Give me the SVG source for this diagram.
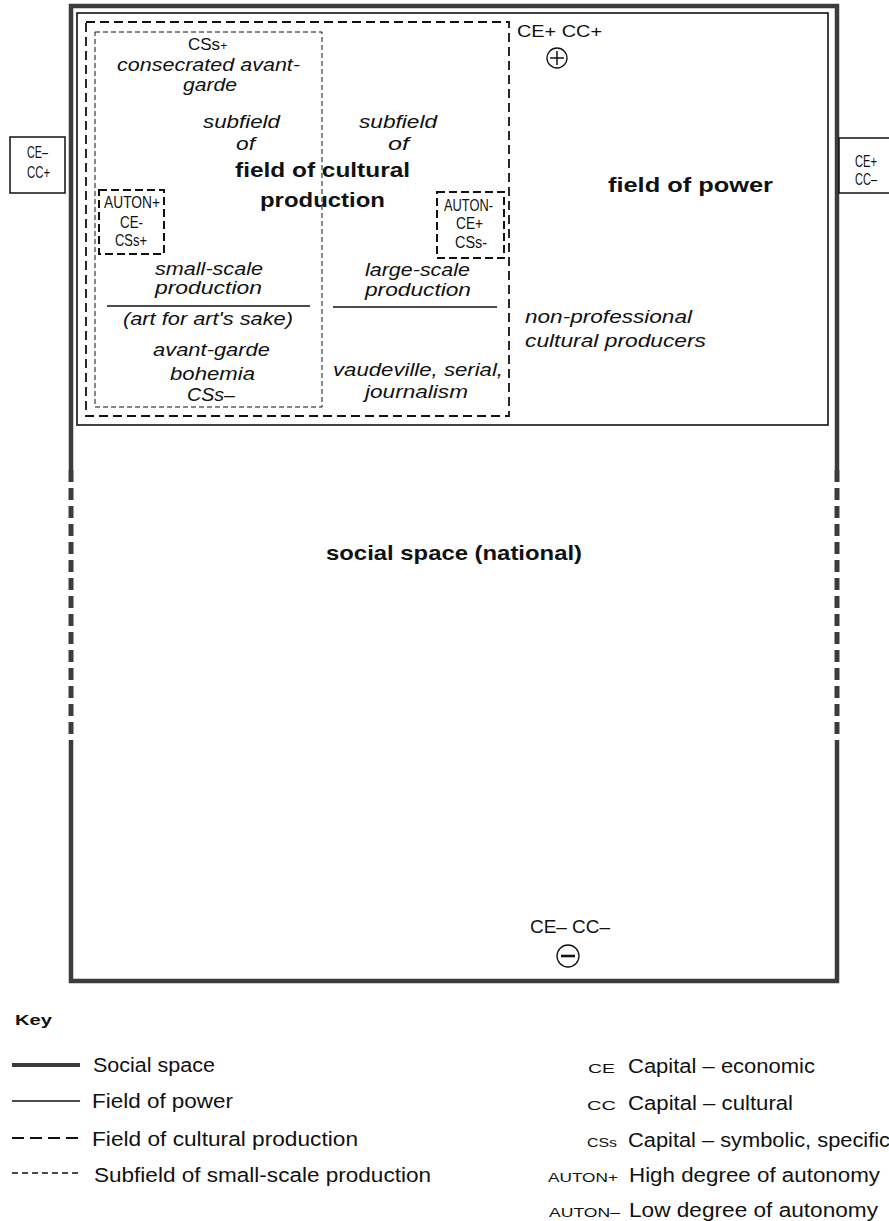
<svg xmlns="http://www.w3.org/2000/svg" width="889" height="1221" viewBox="0 0 889 1221">
<style>
text{font-family:"Liberation Sans",Arial,sans-serif;fill:#111}
.it{font-style:italic;font-size:18.5px}
.bd{font-weight:bold;font-size:21px}
.sm{font-size:16px}
.key{font-size:20px}
.kab{font-size:13px}
.ss{fill:none;stroke:#3c3c3c;stroke-width:4.5}
.ssd{fill:none;stroke:#3c3c3c;stroke-width:5;stroke-dasharray:12 6}
.fp{fill:none;stroke:#111;stroke-width:1.6}
.fc{fill:none;stroke:#111;stroke-width:1.8;stroke-dasharray:9 5}
.sf{fill:none;stroke:#111;stroke-width:1;stroke-dasharray:5 3}
.ab{fill:none;stroke:#111;stroke-width:2;stroke-dasharray:8 4}
.bx{fill:#fff;stroke:#111;stroke-width:1.5}
.dv{stroke:#111;stroke-width:1.3}
</style>
<rect width="889" height="1221" fill="#fff"/>

<g id="social-space">
<path class="ss" d="M71,470 V6 H837 V470"/>
<path class="ss" d="M71,740 V981 H837 V740"/>
<path class="ssd" d="M71,470 V740"/>
<path class="ssd" d="M837,470 V740"/>
<text class="bd" x="326" y="560" textLength="256" lengthAdjust="spacingAndGlyphs">social space (national)</text>
<text x="530" y="933" font-size="18" textLength="80" lengthAdjust="spacingAndGlyphs">CE– CC–</text>
<circle cx="568" cy="956" r="11" fill="none" stroke="#111" stroke-width="1.3"/>
<line x1="561" y1="956" x2="575" y2="956" stroke="#111" stroke-width="2.6"/>
</g>

<g id="field-of-power">
<rect class="fp" x="77" y="13" width="751" height="412"/>
<text x="517" y="37" font-size="16" textLength="85" lengthAdjust="spacingAndGlyphs">CE+ CC+</text>
<circle cx="557" cy="58" r="10" fill="none" stroke="#111" stroke-width="1.3"/>
<line x1="550" y1="58" x2="564" y2="58" stroke="#111" stroke-width="1.5"/>
<line x1="557" y1="51" x2="557" y2="65" stroke="#111" stroke-width="1.5"/>
<text class="bd" x="608" y="192" textLength="165" lengthAdjust="spacingAndGlyphs">field of power</text>
<text class="it" x="525" y="323" textLength="167" lengthAdjust="spacingAndGlyphs">non-professional</text>
<text class="it" x="525" y="347" textLength="181" lengthAdjust="spacingAndGlyphs">cultural producers</text>
</g>

<g id="field-cultural-production">
<rect class="fc" x="86" y="22" width="423" height="394"/>
<text class="it" x="203" y="128" textLength="77" lengthAdjust="spacingAndGlyphs">subfield</text>
<text class="it" x="236" y="150" textLength="19" lengthAdjust="spacingAndGlyphs">of</text>
<text class="it" x="359" y="128" textLength="78" lengthAdjust="spacingAndGlyphs">subfield</text>
<text class="it" x="388" y="150" textLength="21" lengthAdjust="spacingAndGlyphs">of</text>
<text class="bd" x="235" y="177" textLength="175" lengthAdjust="spacingAndGlyphs">field of cultural</text>
<text class="bd" x="260" y="207" textLength="125" lengthAdjust="spacingAndGlyphs">production</text>
<text class="it" x="365" y="276" textLength="105" lengthAdjust="spacingAndGlyphs">large-scale</text>
<text class="it" x="365" y="296" textLength="106" lengthAdjust="spacingAndGlyphs">production</text>
<text class="it" x="333" y="376" textLength="170" lengthAdjust="spacingAndGlyphs">vaudeville, serial,</text>
<text class="it" x="365" y="398" textLength="103" lengthAdjust="spacingAndGlyphs">journalism</text>
</g>

<g id="subfield-small-scale">
<rect class="sf" x="95" y="32" width="227" height="375"/>
<text x="188" y="50" font-size="17">CSs<tspan font-size="12">+</tspan></text>
<text class="it" x="117" y="71" textLength="183" lengthAdjust="spacingAndGlyphs">consecrated avant-</text>
<text class="it" x="183" y="91" textLength="54" lengthAdjust="spacingAndGlyphs">garde</text>
<text class="it" x="155" y="275" textLength="108" lengthAdjust="spacingAndGlyphs">small-scale</text>
<text class="it" x="155" y="294" textLength="107" lengthAdjust="spacingAndGlyphs">production</text>
<text class="it" x="123" y="325" textLength="170" lengthAdjust="spacingAndGlyphs">(art for art's sake)</text>
<text class="it" x="153" y="356" textLength="117" lengthAdjust="spacingAndGlyphs">avant-garde</text>
<text class="it" x="170" y="380" textLength="85" lengthAdjust="spacingAndGlyphs">bohemia</text>
<text class="it" x="187" y="401" font-size="17" textLength="48" lengthAdjust="spacingAndGlyphs">CSs–</text>
</g>

<g id="auton-plus">
<rect class="ab" x="99" y="190" width="65" height="64"/>
<text class="sm" x="104" y="208" textLength="56" lengthAdjust="spacingAndGlyphs">AUTON+</text>
<text class="sm" x="120" y="228" textLength="23" lengthAdjust="spacingAndGlyphs">CE-</text>
<text class="sm" x="115" y="246" textLength="32" lengthAdjust="spacingAndGlyphs">CSs+</text>
</g>

<g id="auton-minus">
<rect class="ab" x="437" y="192" width="67" height="66"/>
<text class="sm" x="444" y="211" textLength="49" lengthAdjust="spacingAndGlyphs">AUTON-</text>
<text class="sm" x="456" y="229" textLength="27" lengthAdjust="spacingAndGlyphs">CE+</text>
<text class="sm" x="455" y="248" textLength="32" lengthAdjust="spacingAndGlyphs">CSs-</text>
</g>

<g id="box-left">
<rect class="bx" x="10" y="137" width="55" height="56"/>
<text class="sm" x="27" y="158" textLength="21" lengthAdjust="spacingAndGlyphs">CE–</text>
<text class="sm" x="27" y="178" textLength="23" lengthAdjust="spacingAndGlyphs">CC+</text>
</g>

<g id="box-right">
<rect class="bx" x="839" y="138" width="60" height="55"/>
<text class="sm" x="855" y="167" textLength="22" lengthAdjust="spacingAndGlyphs">CE+</text>
<text class="sm" x="855" y="185" textLength="22" lengthAdjust="spacingAndGlyphs">CC–</text>
</g>

<g id="connectors">
<line class="dv" x1="107" y1="306" x2="310" y2="306"/>
<line class="dv" x1="333" y1="307" x2="497" y2="307"/>
</g>

<g id="key">
<text x="15" y="1025" font-size="15" font-weight="bold" textLength="37" lengthAdjust="spacingAndGlyphs">Key</text>
<line x1="12" y1="1065" x2="80" y2="1065" stroke="#3c3c3c" stroke-width="4"/>
<text class="key" x="93" y="1072" textLength="122" lengthAdjust="spacingAndGlyphs">Social space</text>
<line x1="12" y1="1101" x2="80" y2="1101" stroke="#111" stroke-width="1.6"/>
<text class="key" x="92" y="1108" textLength="141" lengthAdjust="spacingAndGlyphs">Field of power</text>
<line x1="12" y1="1138" x2="80" y2="1138" stroke="#111" stroke-width="2" stroke-dasharray="12 6"/>
<text class="key" x="92" y="1146" textLength="266" lengthAdjust="spacingAndGlyphs">Field of cultural production</text>
<line x1="12" y1="1173" x2="80" y2="1173" stroke="#111" stroke-width="1.6" stroke-dasharray="6 4"/>
<text class="key" x="94" y="1182" textLength="337" lengthAdjust="spacingAndGlyphs">Subfield of small-scale production</text>

<text class="kab" x="588" y="1073" textLength="27" lengthAdjust="spacingAndGlyphs">CE</text>
<text class="key" x="628" y="1073" textLength="187" lengthAdjust="spacingAndGlyphs">Capital – economic</text>
<text class="kab" x="587" y="1110" textLength="29" lengthAdjust="spacingAndGlyphs">CC</text>
<text class="key" x="628" y="1110" textLength="165" lengthAdjust="spacingAndGlyphs">Capital – cultural</text>
<text class="kab" x="587" y="1147" textLength="30" lengthAdjust="spacingAndGlyphs">CSs</text>
<text class="key" x="628" y="1147" textLength="262" lengthAdjust="spacingAndGlyphs">Capital – symbolic, specific</text>
<text class="kab" x="548" y="1182" textLength="70" lengthAdjust="spacingAndGlyphs">AUTON+</text>
<text class="key" x="629" y="1182" textLength="251" lengthAdjust="spacingAndGlyphs">High degree of autonomy</text>
<text class="kab" x="549" y="1217" textLength="71" lengthAdjust="spacingAndGlyphs">AUTON–</text>
<text class="key" x="629" y="1217" textLength="249" lengthAdjust="spacingAndGlyphs">Low degree of autonomy</text>
</g>
</svg>
